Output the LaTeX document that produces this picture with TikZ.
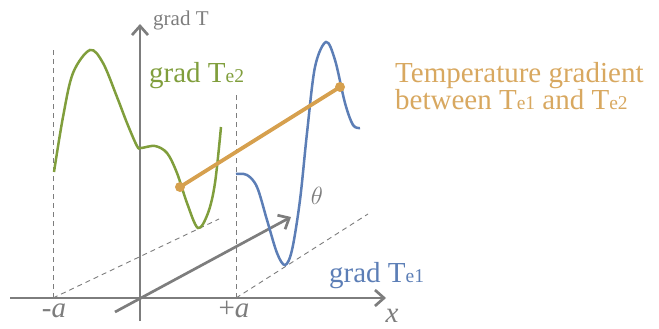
\documentclass[tikz,border=0pt]{standalone}
\usepackage{fontspec}
\setmainfont{Liberation Serif}
\usetikzlibrary{arrows.meta}
\definecolor{cgreen}{RGB}{128,158,60}
\definecolor{cblue}{RGB}{92,126,182}
\definecolor{corange}{RGB}{214,160,78}
\definecolor{ctext}{RGB}{216,168,96}
\definecolor{cgray}{RGB}{125,125,125}
\newcommand{\sub}[1]{{\fontsize{19.5}{19.5}\selectfont #1}}
\tikzset{
  axis/.style={draw=cgray, line width=2.7pt, -{Straight Barb[length=9pt,width=16pt,line width=2.7pt]}},
  guide/.style={draw=cgray, line width=0.9pt, dash pattern=on 5pt off 4pt},
  curve/.style={line width=2.5pt, smooth, tension=0.55},
  lbl/.style={inner sep=0pt, anchor=base west, font=\fontsize{29}{32}\selectfont},
  mathlbl/.style={inner sep=0pt, anchor=base, text=cgray, font=\fontsize{29}{32}\selectfont},
}
\begin{document}
\begin{tikzpicture}[x=1pt,y=-1pt]
\useasboundingbox (0,0) rectangle (659,329);
% coordinates
\coordinate (xs) at (10,298);
\coordinate (xe) at (386,298);
\coordinate (ys) at (140,321);
\coordinate (ye) at (140,24);
\coordinate (O) at (140,298);
\coordinate (ma) at (53,298);
\coordinate (pa) at (236,298);
\coordinate (mat) at (53,50);
\coordinate (pat) at (236,95);
\coordinate (d1) at (219,219);
\coordinate (d2) at (368,214);
\coordinate (th0) at (115,312);
\coordinate (th1) at (291,217);
% guides
\draw[guide] (ma) -- (mat);
\draw[guide] (pa) -- (pat);
\draw[guide] (ma) -- (d1);
\draw[guide] (pa) -- (d2);
% axes
\draw[axis] (xs) -- (xe);
\draw[axis] (ys) -- (ye);
\draw[axis] (th0) -- (th1);
% green curve
\draw[curve, cgreen] plot coordinates {(54,172) (63,117) (73,73) (90,50) (103,63) (117,97) (127,123) (137,146) (141,148) (155,146) (167,153) (177,173) (187,203) (198,228) (208,213) (215,183) (221,127)};
% blue curve
\draw[curve, cblue] plot coordinates {(236,174) (247,175) (257,187) (267,220) (277,253) (285,265) (292,250) (300,200) (307,133) (315,67) (326,42) (335,60) (345,103) (353,125) (360,128)};
% orange line
\coordinate (g1) at (180,187);
\coordinate (g2) at (340,87);
\draw[corange, line width=3.8pt] (g1) -- (g2);
\fill[corange] (g1) circle (5pt);
\fill[corange] (g2) circle (5pt);
% labels
\node[lbl, text=cgray, font=\fontsize{21}{24}\selectfont] (gT) at (153,26) {grad T};
\node[lbl, text=cgreen] (gT2) at (149,83) {grad T\sub{e2}};
\node[lbl, text=cblue] (gT1) at (329,282) {grad T\sub{e1}};
\node[lbl, text=ctext] (tg1) at (395,82) {Temperature gradient};
\node[lbl, text=ctext] (tg2) at (395,110) {between T\sub{e1} and T\sub{e2}};
\node[mathlbl] (lma) at (54,317) {-\textit{a}};
\node[mathlbl] (lpa) at (234,317) {+\textit{a}};
\node[mathlbl] (lx) at (392,322) {\textit{x}};
\node[mathlbl, font=\fontsize{24}{26}\selectfont] (lth) at (317,204) {$\theta$};
\end{tikzpicture}
\end{document}
